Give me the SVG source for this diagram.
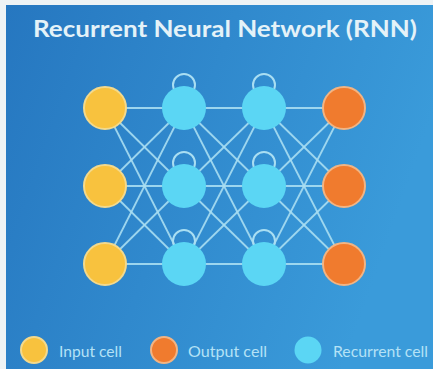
<svg xmlns="http://www.w3.org/2000/svg" width="433" height="369" viewBox="0 0 433 369">
<defs>
<linearGradient id="bg" x1="0" y1="0" x2="1" y2="0.3">
<stop offset="0" stop-color="#2677c0"/>
<stop offset="1" stop-color="#3a9bda"/>
</linearGradient>
<style>
.in{fill:#f8c23e;stroke:#f3d98c;stroke-width:2}
.out{fill:#f07b2e;stroke:#f2b483;stroke-width:2}
.rec{fill:#5bd6f4}
.loop{fill:none;stroke:#a9def2;stroke-width:2}
.ln{stroke:#a9def2;stroke-width:1.8;stroke-opacity:0.9}
.lg{font-family:Lato,"Open Sans",sans-serif;font-size:15px;fill:#b4e2f6}
</style>
</defs>
<rect width="433" height="369" fill="#eef3f5"/>
<rect x="6" y="5" width="427" height="364" fill="url(#bg)"/>
<text x="33" y="37" font-family="Lato,'Open Sans',sans-serif" font-weight="bold" font-size="23" fill="#e4f2f8" textLength="384" lengthAdjust="spacingAndGlyphs">Recurrent Neural Network (RNN)</text>
<g id="connectors">
<line class="ln" x1="105" y1="108" x2="184" y2="108"/>
<line class="ln" x1="105" y1="108" x2="184" y2="186"/>
<line class="ln" x1="105" y1="108" x2="184" y2="264"/>
<line class="ln" x1="105" y1="186" x2="184" y2="108"/>
<line class="ln" x1="105" y1="186" x2="184" y2="186"/>
<line class="ln" x1="105" y1="186" x2="184" y2="264"/>
<line class="ln" x1="105" y1="264" x2="184" y2="108"/>
<line class="ln" x1="105" y1="264" x2="184" y2="186"/>
<line class="ln" x1="105" y1="264" x2="184" y2="264"/>
<line class="ln" x1="184" y1="108" x2="264" y2="108"/>
<line class="ln" x1="184" y1="108" x2="264" y2="186"/>
<line class="ln" x1="184" y1="108" x2="264" y2="264"/>
<line class="ln" x1="184" y1="186" x2="264" y2="108"/>
<line class="ln" x1="184" y1="186" x2="264" y2="186"/>
<line class="ln" x1="184" y1="186" x2="264" y2="264"/>
<line class="ln" x1="184" y1="264" x2="264" y2="108"/>
<line class="ln" x1="184" y1="264" x2="264" y2="186"/>
<line class="ln" x1="184" y1="264" x2="264" y2="264"/>
<line class="ln" x1="264" y1="108" x2="344" y2="108"/>
<line class="ln" x1="264" y1="108" x2="344" y2="186"/>
<line class="ln" x1="264" y1="108" x2="344" y2="264"/>
<line class="ln" x1="264" y1="186" x2="344" y2="108"/>
<line class="ln" x1="264" y1="186" x2="344" y2="186"/>
<line class="ln" x1="264" y1="186" x2="344" y2="264"/>
<line class="ln" x1="264" y1="264" x2="344" y2="108"/>
<line class="ln" x1="264" y1="264" x2="344" y2="186"/>
<line class="ln" x1="264" y1="264" x2="344" y2="264"/>
<circle class="loop" cx="184" cy="85" r="11"/>
<circle class="loop" cx="264" cy="85" r="11"/>
<circle class="loop" cx="184" cy="163" r="11"/>
<circle class="loop" cx="264" cy="163" r="11"/>
<circle class="loop" cx="184" cy="241" r="11"/>
<circle class="loop" cx="264" cy="241" r="11"/>
</g>
<g id="in1"><circle class="in" cx="105" cy="108" r="21"/></g>
<g id="in2"><circle class="in" cx="105" cy="186" r="21"/></g>
<g id="in3"><circle class="in" cx="105" cy="264" r="21"/></g>
<g id="r11"><circle class="rec" cx="184" cy="108" r="22"/></g>
<g id="r12"><circle class="rec" cx="184" cy="186" r="22"/></g>
<g id="r13"><circle class="rec" cx="184" cy="264" r="22"/></g>
<g id="r21"><circle class="rec" cx="264" cy="108" r="22"/></g>
<g id="r22"><circle class="rec" cx="264" cy="186" r="22"/></g>
<g id="r23"><circle class="rec" cx="264" cy="264" r="22"/></g>
<g id="out1"><circle class="out" cx="344" cy="108" r="21"/></g>
<g id="out2"><circle class="out" cx="344" cy="186" r="21"/></g>
<g id="out3"><circle class="out" cx="344" cy="264" r="21"/></g>
<g id="legend-input"><circle class="in" cx="34" cy="350" r="13"/><text class="lg" x="59" y="357" textLength="63" lengthAdjust="spacingAndGlyphs">Input cell</text></g>
<g id="legend-output"><circle class="out" cx="164" cy="350" r="13"/><text class="lg" x="188" y="357" textLength="79" lengthAdjust="spacingAndGlyphs">Output cell</text></g>
<g id="legend-recurrent"><circle class="rec" cx="308" cy="350" r="13.5"/><text class="lg" x="333" y="357" textLength="95" lengthAdjust="spacingAndGlyphs">Recurrent cell</text></g>
</svg>
